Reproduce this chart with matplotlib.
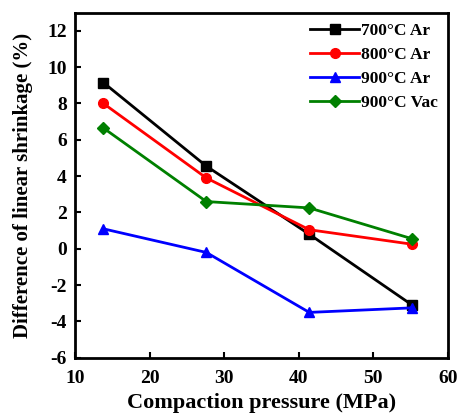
import matplotlib
matplotlib.use("Agg")
import matplotlib.pyplot as plt

plt.rcParams["font.family"] = "Liberation Serif"
plt.rcParams["font.weight"] = "bold"
plt.rcParams["axes.unicode_minus"] = False

pressure = [13.8, 27.6, 41.4, 55.2]
ar700 = [9.15, 4.55, 0.8, -3.1]
ar800 = [8.0, 3.9, 1.05, 0.25]
ar900 = [1.1, -0.2, -3.5, -3.25]
vac900 = [6.65, 2.6, 2.25, 0.55]
labels = ["700°C Ar", "800°C Ar", "900°C Ar", "900°C Vac"]

fig = plt.figure(figsize=(4.6, 4.19), dpi=100)
ax = fig.add_axes([0.163, 0.146, 0.811, 0.824])

series = [(ar700, "black", "s"), (ar800, "red", "o"), (ar900, "blue", "^"), (vac900, "green", "D")]
for (vals, c, m), lab in zip(series, labels):
    ms = 7 if m != "D" else 6
    ax.plot(pressure, vals, color=c, marker=m, markersize=ms, linewidth=2, label=lab)

ax.set_xlim(10, 60)
ax.set_ylim(-6, 13)
ax.set_xticks([10, 20, 30, 40, 50, 60])
ax.set_yticks(range(-6, 13, 2))
ax.tick_params(direction="in", width=1.5, length=4, labelsize=14)
ax.tick_params(axis="x", pad=9)
ax.tick_params(axis="y", pad=6)
for s in ax.spines.values():
    s.set_linewidth(2)
ax.set_xlabel("Compaction pressure (MPa)", fontsize=16, fontweight="bold", labelpad=4)
ax.set_ylabel("Difference of linear shrinkage (%)", fontsize=15, fontweight="bold", labelpad=10)
ax.legend(loc="upper right", frameon=False, fontsize=12.5, handlelength=2.8,
          handletextpad=0.1, labelspacing=0.45, borderaxespad=0.2)

fig.savefig("out.png", dpi=100)
